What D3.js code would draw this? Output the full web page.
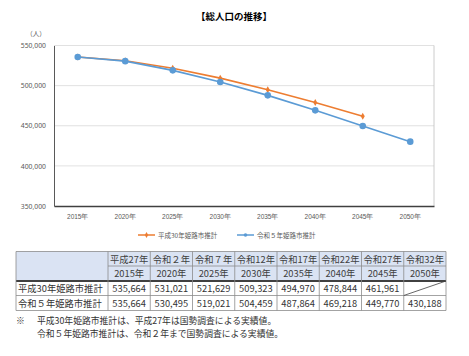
<!DOCTYPE html>
<html><head><meta charset="utf-8">
<script src="https://cdn.jsdelivr.net/npm/d3@7"></script>
<style>
html,body{margin:0;padding:0;background:#fff;}
svg{display:block;font-family:"Noto Sans CJK JP","Noto Sans",sans-serif;}
</style></head>
<body>
<svg id="c" width="469" height="356"></svg>
<script>
const years = ["2015年","2020年","2025年","2030年","2035年","2040年","2045年","2050年"];
const eras = ["平成27年","令和２年","令和７年","令和12年","令和17年","令和22年","令和27年","令和32年"];
const seriesNames = ["平成30年姫路市推計","令和５年姫路市推計"];
const h30 = [535664,531021,521629,509323,494970,478844,461961,null];
const r5 = [535664,530495,519021,504459,487864,469218,449770,430188];
const yTicks = [350000,400000,450000,500000,550000];
const colors = ["#ED7D31","#5B9BD5"];
const title = "【総人口の推移】";
const unit = "（人）";
const notes = ["※","平成30年姫路市推計は、平成27年は国勢調査による実績値。","令和５年姫路市推計は、令和２年まで国勢調査による実績値。"];

const svg = d3.select("#c");
const L=54,R=434,T=45.5,B=206;
const x = d3.scaleBand().domain(years).range([L,R]);
const y = d3.scaleLinear().domain([350000,550000]).range([B,T]);
const fmt = d3.format(",");

svg.append("text").attr("x",234).attr("y",20).attr("text-anchor","middle")
  .attr("font-size",9.5).attr("font-weight","bold").attr("fill","#000").text(title);
svg.append("text").attr("x",36).attr("y",36).attr("text-anchor","middle")
  .attr("font-size",6.5).attr("fill","#595959").text(unit);

svg.append("g").selectAll("line").data(yTicks.filter(d=>d>350000)).join("line")
  .attr("x1",L).attr("x2",R).attr("y1",d=>y(d)).attr("y2",d=>y(d))
  .attr("stroke","#d9d9d9").attr("stroke-width",0.8);
svg.append("line").attr("x1",R).attr("x2",R).attr("y1",T).attr("y2",B).attr("stroke","#bfbfbf").attr("stroke-width",0.8);

const ya = svg.append("g").attr("transform",`translate(${L},0)`)
  .call(d3.axisLeft(y).tickValues(yTicks).tickFormat(fmt).tickSize(0).tickPadding(8));
ya.select(".domain").attr("stroke","#595959").attr("stroke-width",1);
ya.selectAll("text").attr("font-size",6.8).attr("fill","#595959").attr("font-family","Noto Sans, sans-serif");

const xa = svg.append("g").attr("transform",`translate(0,${B})`)
  .call(d3.axisBottom(x).tickSize(0).tickPadding(8));
xa.select(".domain").attr("stroke","#404040").attr("stroke-width",1.3);
xa.selectAll("text").attr("font-size",6.5).attr("fill","#595959");

const cx = d=>x(d)+x.bandwidth()/2;
[h30,r5].forEach((vals,i)=>{
  const pts = years.map((yr,j)=>({yr,v:vals[j]})).filter(p=>p.v!=null);
  svg.append("path").datum(pts)
    .attr("d",d3.line().x(p=>cx(p.yr)).y(p=>y(p.v)))
    .attr("fill","none").attr("stroke",colors[i]).attr("stroke-width",1.6);
});
const h30pts = years.map((yr,j)=>({yr,v:h30[j]})).filter(p=>p.v!=null);
const r5pts = years.map((yr,j)=>({yr,v:r5[j]}));
svg.append("g").selectAll("path").data(h30pts).join("path")
  .attr("d",d3.symbol().type(d3.symbolDiamond).size(14))
  .attr("transform",p=>`translate(${cx(p.yr)},${y(p.v)})`).attr("fill",colors[0]);
svg.append("g").selectAll("circle").data(r5pts).join("circle")
  .attr("cx",p=>cx(p.yr)).attr("cy",p=>y(p.v)).attr("r",3.3).attr("fill",colors[1]);

const leg = [{x:138,i:0},{x:237,i:1}];
leg.forEach(l=>{
  const g = svg.append("g");
  g.append("line").attr("x1",l.x).attr("x2",l.x+17).attr("y1",235).attr("y2",235)
    .attr("stroke",colors[l.i]).attr("stroke-width",1.5);
  if(l.i===0) g.append("path").attr("d",d3.symbol().type(d3.symbolDiamond).size(10)).attr("transform",`translate(${l.x+8.5},235)`).attr("fill",colors[0]);
  else g.append("circle").attr("cx",l.x+8.5).attr("cy",235).attr("r",1.8).attr("fill",colors[1]);
  g.append("text").attr("x",l.x+20).attr("y",237.5).attr("font-size",6.5).attr("fill","#595959").text(seriesNames[l.i]);
});

const tL=16, c0=108, cw=42.25, rows=[251.5,266,281,295.5,310.5];
const tb = svg.append("g");
tb.append("rect").attr("x",tL).attr("y",rows[0]).attr("width",c0+cw*8-tL).attr("height",rows[2]-rows[0]).attr("fill","#dae3f3");
const cellX = j=>c0+cw*j+cw/2;
const fs = 9.3;
eras.forEach((e,j)=>tb.append("text").attr("x",cellX(j)).attr("y",rows[0]+11).attr("text-anchor","middle").attr("font-size",fs).attr("fill","#404040").text(e));
years.forEach((e,j)=>tb.append("text").attr("x",cellX(j)).attr("y",rows[1]+11).attr("text-anchor","middle").attr("font-size",fs).attr("fill","#404040").text(e));
[h30,r5].forEach((vals,i)=>{
  tb.append("text").attr("x",tL+2).attr("y",rows[2+i]+11).attr("font-size",fs).attr("fill","#333").text(seriesNames[i]);
  vals.forEach((v,j)=>{ if(v!=null) tb.append("text").attr("x",cellX(j)).attr("y",rows[2+i]+11).attr("text-anchor","middle").attr("font-size",fs).attr("fill","#333").text(fmt(v)); });
});
const tR = c0+cw*8;
const ls = "#8c8c8c";
tb.append("line").attr("x1",tL).attr("x2",tR).attr("y1",rows[0]).attr("y2",rows[0]).attr("stroke",ls).attr("stroke-width",0.8);
tb.append("line").attr("x1",c0).attr("x2",tR).attr("y1",rows[1]).attr("y2",rows[1]).attr("stroke",ls).attr("stroke-width",0.8);
tb.append("line").attr("x1",tL).attr("x2",tR).attr("y1",rows[2]).attr("y2",rows[2]).attr("stroke","#404040").attr("stroke-width",1.8);
tb.append("line").attr("x1",tL).attr("x2",tR).attr("y1",rows[3]).attr("y2",rows[3]).attr("stroke",ls).attr("stroke-width",0.8);
tb.append("line").attr("x1",tL).attr("x2",tR).attr("y1",rows[4]).attr("y2",rows[4]).attr("stroke",ls).attr("stroke-width",0.8);
tb.append("line").attr("x1",tL).attr("x2",tL).attr("y1",rows[0]).attr("y2",rows[4]).attr("stroke",ls).attr("stroke-width",0.8);
d3.range(9).forEach(j=>tb.append("line").attr("x1",c0+cw*j).attr("x2",c0+cw*j).attr("y1",rows[0]).attr("y2",rows[4]).attr("stroke",ls).attr("stroke-width",0.8));
tb.append("line").attr("x1",c0+cw*7).attr("x2",tR).attr("y1",rows[3]).attr("y2",rows[2]).attr("stroke","#404040").attr("stroke-width",0.8);

svg.append("text").attr("x",16).attr("y",323.5).attr("font-size",8.8).attr("fill","#333").text(notes[0]);
svg.append("text").attr("x",37).attr("y",323.5).attr("font-size",8.8).attr("fill","#333").text(notes[1]);
svg.append("text").attr("x",37).attr("y",337).attr("font-size",8.8).attr("fill","#333").text(notes[2]);
</script>
</body></html>
